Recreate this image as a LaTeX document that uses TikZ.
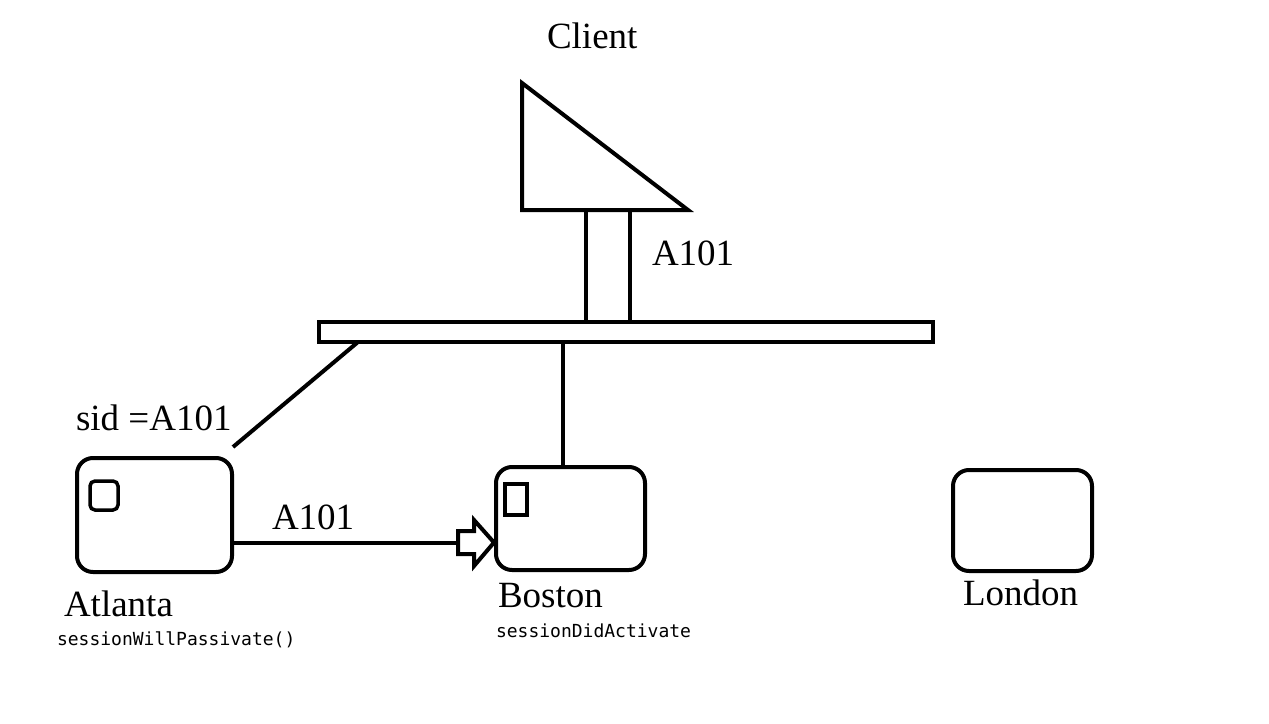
\documentclass[tikz,border=0pt]{standalone}
\usepackage{fontspec}
\setmainfont{Liberation Serif}
\setmonofont{DejaVu Sans Mono}
\begin{document}
\begin{tikzpicture}[x=1pt,y=-1pt,line width=4pt,
  lbl/.style={anchor=base west,inner sep=0pt,font=\fontsize{37}{40}\selectfont},
  code/.style={anchor=base west,inner sep=0pt,font=\ttfamily\fontsize{18}{20}\selectfont},
  server/.style={draw,rounded corners=16pt,inner sep=0pt},
  flag/.style={draw,line width=3.5pt,inner sep=0pt}]
\useasboundingbox[fill=white] (0,0) rectangle (1269,723);
% client triangle
\coordinate (ta) at (522,83);
\coordinate (tb) at (522,210);
\coordinate (tc) at (688,210);
\draw[line join=miter] (ta) -- (tb) -- (tc) -- cycle;
\node[lbl] (client) at (545,48) {Client};
% bus
\node[draw,inner sep=0pt,minimum width=614pt,minimum height=20pt] (bus) at (626,332) {};
\coordinate (p1) at (586,210);
\coordinate (p2) at (630,210);
\draw (p1) -- (p1 |- bus.north);
\draw (p2) -- (p2 |- bus.north);
\node[lbl] (a1) at (650,265) {A101};
% servers
\node[server,minimum width=155pt,minimum height=114pt] (atl) at (154.5,515) {};
\node[server,minimum width=149pt,minimum height=103pt] (bos) at (570.5,518.5) {};
\node[server,minimum width=139pt,minimum height=101pt] (lon) at (1022.5,520.5) {};
\node[flag,rounded corners=5pt,minimum width=28pt,minimum height=29pt] (af) at (104,495.5) {};
\node[flag,minimum width=22pt,minimum height=31pt] (bf) at (516,499.5) {};
% connectors
\coordinate (bs) at (358,342);
\coordinate (ae) at (233,447);
\draw (bs) -- (ae);
\coordinate (bm) at (563,342);
\draw (bm) -- (bm |- bos.north);
\coordinate (h0) at (458,542.5);
\draw (atl.east |- h0) -- (h0);
\draw[line join=miter] (458,531) -- (474,531) -- (474,520) -- (bos.west |- h0) -- (474,566) -- (474,554) -- (458,554) -- cycle;
% labels
\node[lbl] (sid) at (74,430) {sid =A101};
\node[lbl] (a2) at (270,529) {A101};
\node[lbl] (atll) at (62,616) {Atlanta};
\node[lbl] (bosl) at (496,607) {Boston};
\node[lbl] (lonl) at (961,605) {London};
\node[code] (c1) at (55,645) {sessionWillPassivate()};
\node[code] (c2) at (494,637) {sessionDidActivate};
\end{tikzpicture}
\end{document}
